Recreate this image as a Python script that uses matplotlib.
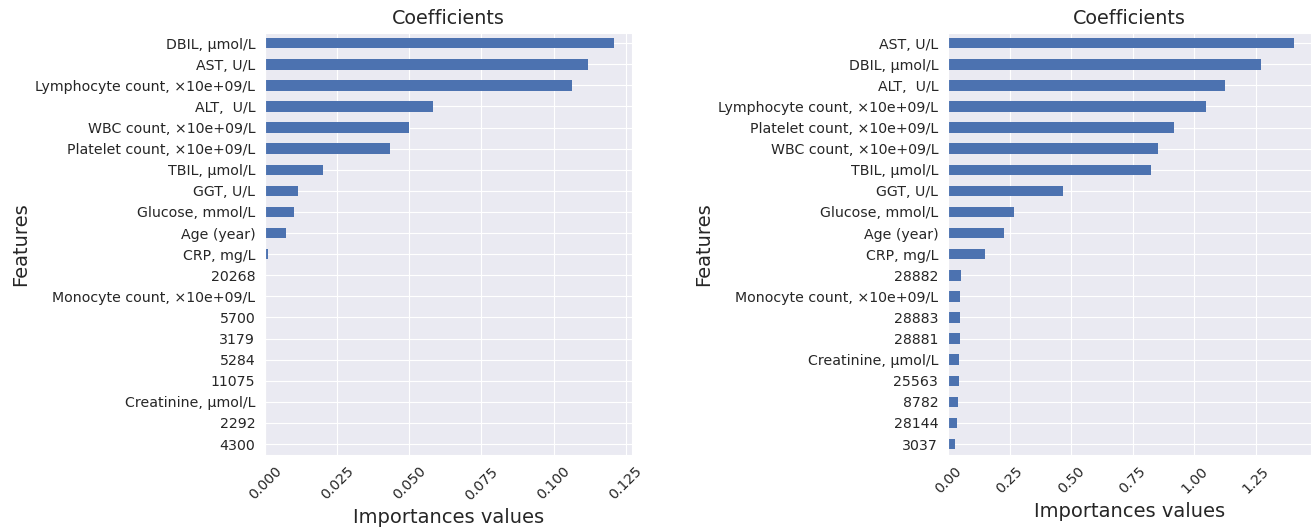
import numpy as np
import matplotlib
matplotlib.use("Agg")
import matplotlib.pyplot as plt
import seaborn as sns

# left panel (top to bottom)
feat_l = ["DBIL, µmol/L", "AST, U/L", "Lymphocyte count, ×10e+09/L", "ALT,  U/L",
          "WBC count, ×10e+09/L", "Platelet count, ×10e+09/L", "TBIL, µmol/L",
          "GGT, U/L", "Glucose, mmol/L", "Age (year)", "CRP, mg/L", "20268",
          "Monocyte count, ×10e+09/L", "5700", "3179", "5284", "11075",
          "Creatinine, µmol/L", "2292", "4300"]
vals_l = [0.1211, 0.1119, 0.1065, 0.0584, 0.0498, 0.0433, 0.0202, 0.0115,
          0.0100, 0.0073, 0.0012, 0.0, 0.0, 0.0, 0.0, 0.0, 0.0, 0.0, 0.0, 0.0]

# right panel (top to bottom)
feat_r = ["AST, U/L", "DBIL, µmol/L", "ALT,  U/L", "Lymphocyte count, ×10e+09/L",
          "Platelet count, ×10e+09/L", "WBC count, ×10e+09/L", "TBIL, µmol/L",
          "GGT, U/L", "Glucose, mmol/L", "Age (year)", "CRP, mg/L", "28882",
          "Monocyte count, ×10e+09/L", "28883", "28881", "Creatinine, µmol/L",
          "25563", "8782", "28144", "3037"]
vals_r = [1.403, 1.270, 1.126, 1.048, 0.918, 0.851, 0.824, 0.466, 0.266, 0.227,
          0.150, 0.051, 0.050, 0.049, 0.048, 0.046, 0.045, 0.040, 0.037, 0.029]

sns.set_style("darkgrid")
plt.rcParams['font.family'] = ['DejaVu Sans']

fig = plt.figure(figsize=(13.11, 5.29), dpi=100)
ax1 = fig.add_axes([0.2021, 0.1406, 0.2799, 0.7977])
ax2 = fig.add_axes([0.7231, 0.1406, 0.2769, 0.7977])

for ax, feats, vals in [(ax1, feat_l, vals_l), (ax2, feat_r, vals_r)]:
    n = len(feats)
    pos = np.arange(n)[::-1]
    ax.barh(pos, vals, height=0.5, color="#4C72B0", linewidth=0)
    ax.set_yticks(pos)
    ax.set_yticklabels(feats, fontsize=10.2)
    ax.set_ylim(-0.5, n - 0.5)
    ax.set_xlim(0, max(vals) * 1.05)
    ax.tick_params(axis='x', labelrotation=45, labelsize=10.2)
    ax.set_title("Coefficients", fontsize=13.8)
    ax.set_xlabel("Importances values", fontsize=14)
    ax.set_ylabel("Features", fontsize=14)

ax1.set_xticks([0, 0.025, 0.05, 0.075, 0.1, 0.125])
ax1.set_xticklabels(["0.000", "0.025", "0.050", "0.075", "0.100", "0.125"])
ax2.set_xticks([0, 0.25, 0.5, 0.75, 1.0, 1.25])
ax2.set_xticklabels(["0.00", "0.25", "0.50", "0.75", "1.00", "1.25"])

plt.savefig("out.png", dpi=100)
